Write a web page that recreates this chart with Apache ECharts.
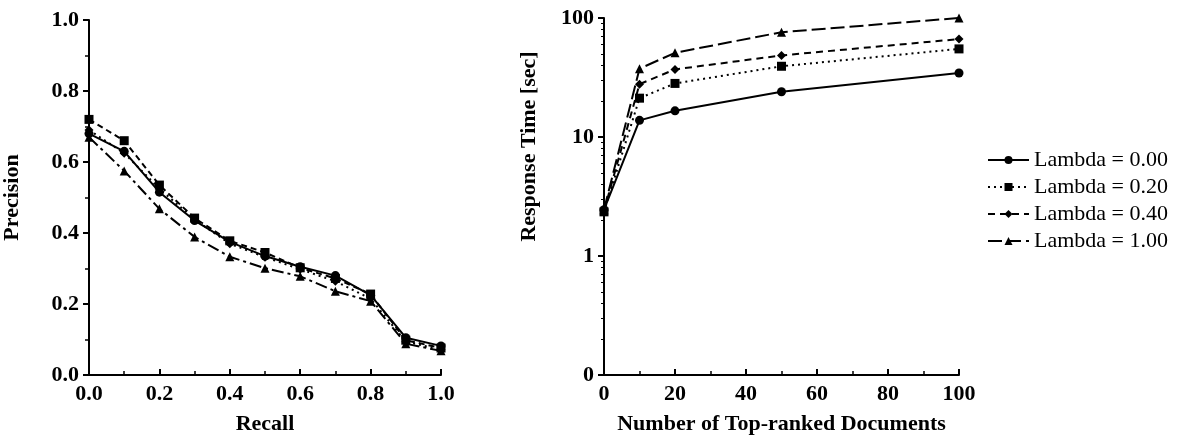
<!DOCTYPE html>
<html>
<head>
<meta charset="utf-8">
<script src="https://cdn.jsdelivr.net/npm/echarts@6/dist/echarts.min.js"></script>
<style>
  html, body { margin: 0; padding: 0; background: #fff; }
  #main { width: 1179px; height: 440px; }
</style>
</head>
<body>
<div id="main"></div>
<script>
// left chart: precision vs recall
let recallLevels = [0.0, 0.1, 0.2, 0.3, 0.4, 0.5, 0.6, 0.7, 0.8, 0.9, 1.0];
let precLambda000 = [0.68, 0.63, 0.515, 0.435, 0.375, 0.335, 0.305, 0.28, 0.225, 0.105, 0.082];
let precLambda020 = [0.72, 0.66, 0.535, 0.442, 0.378, 0.345, 0.302, 0.272, 0.228, 0.098, 0.076];
let precLambda040 = [0.69, 0.625, 0.525, 0.438, 0.37, 0.332, 0.298, 0.264, 0.215, 0.094, 0.071];
let precLambda100 = [0.67, 0.575, 0.468, 0.389, 0.333, 0.301, 0.278, 0.236, 0.208, 0.088, 0.068];

// right chart: response time vs number of documents
let topDocs = [0, 10, 20, 50, 100];
let timeLambda000 = [2.45, 13.8, 16.6, 24.0, 34.5];
let timeLambda020 = [2.35, 21.2, 28.2, 39.3, 55.0];
let timeLambda040 = [2.4, 27.8, 37.0, 48.5, 66.5];
let timeLambda100 = [2.45, 37.5, 51.0, 76.0, 100];

let lambdaNames = ["Lambda = 0.00", "Lambda = 0.20", "Lambda = 0.40", "Lambda = 1.00"];

let font = "Liberation Serif";

function pairs(xs, ys) {
    let res = [];
    for (let i = 0; i < xs.length; i++) {
        res.push([xs[i], ys[i]]);
    }
    return res;
}

// per series look: line dash + marker
let leftLooks = [
    {type: "solid", symbol: "circle", size: 9},
    {type: [6, 4], symbol: "rect", size: 9},
    {type: [2, 4], symbol: "diamond", size: 9},
    {type: [12, 4, 3, 4], symbol: "triangle", size: 9}
];
let rightLooks = [
    {type: "solid", symbol: "circle", size: 9},
    {type: [2, 4], symbol: "rect", size: 9},
    {type: [7, 5], symbol: "diamond", size: 9},
    {type: [14, 5], symbol: "triangle", size: 9}
];

function makeSeries(name, look, data, gridIdx) {
    return {
        name: name,
        type: "line",
        xAxisIndex: gridIdx,
        yAxisIndex: gridIdx,
        data: data,
        symbol: look.symbol,
        symbolSize: look.size,
        itemStyle: {color: "#000"},
        lineStyle: {color: "#000", width: 2, type: look.type},
        animation: false
    };
}

let axisLine = {lineStyle: {color: "#000", width: 2}};
let labelStyle = {color: "#000", fontFamily: font, fontSize: 22, fontWeight: "bold"};
let nameStyle = {color: "#000", fontFamily: font, fontSize: 22, fontWeight: "bold"};

let chart = echarts.init(document.getElementById("main"));

let leftSets = [precLambda000, precLambda020, precLambda040, precLambda100];
let rightSets = [timeLambda000, timeLambda020, timeLambda040, timeLambda100];

// right chart series first, so the legend takes its line styles from them
let series = [];
for (let i = 0; i < 4; i++) {
    series.push(makeSeries(lambdaNames[i], rightLooks[i], pairs(topDocs, rightSets[i]), 1));
}
for (let i = 0; i < 4; i++) {
    series.push(makeSeries(lambdaNames[i], leftLooks[i], pairs(recallLevels, leftSets[i]), 0));
}

let option = {
    backgroundColor: "#fff",
    grid: [
        {left: 86, right: 738, top: 20, bottom: 60},
        {left: 604, right: 220, top: 18, bottom: 62}
    ],
    legend: {
        orient: "vertical",
        left: 982,
        top: 144,
        itemWidth: 41,
        itemHeight: 10,
        itemGap: 5,
        data: lambdaNames,
        textStyle: {color: "#000", fontFamily: font, fontSize: 22},
        selectedMode: false
    },
    xAxis: [
        {
            type: "value", gridIndex: 0, min: 0, max: 1, interval: 0.2,
            name: "Recall", nameLocation: "middle", nameGap: 38, nameTextStyle: nameStyle,
            axisLine: axisLine,
            axisTick: {inside: true, length: 6, lineStyle: {color: "#000", width: 2}},
            minorTick: {show: true, splitNumber: 2, length: 4, lineStyle: {color: "#000", width: 1.5}},
            axisLabel: Object.assign({margin: 8, formatter: v => v.toFixed(1)}, labelStyle),
            splitLine: {show: false}
        },
        {
            type: "value", gridIndex: 1, min: 0, max: 100, interval: 20,
            name: "Number of Top-ranked Documents", nameLocation: "middle", nameGap: 38, nameTextStyle: nameStyle,
            axisLine: axisLine,
            axisTick: {inside: true, length: 6, lineStyle: {color: "#000", width: 2}},
            minorTick: {show: true, splitNumber: 2, length: 4, lineStyle: {color: "#000", width: 1.5}},
            axisLabel: Object.assign({margin: 8}, labelStyle),
            splitLine: {show: false}
        }
    ],
    yAxis: [
        {
            type: "value", gridIndex: 0, min: 0, max: 1, interval: 0.2,
            name: "Precision", nameLocation: "middle", nameGap: 66, nameTextStyle: nameStyle,
            axisLine: axisLine,
            axisTick: {length: 6, lineStyle: {color: "#000", width: 2}},
            minorTick: {show: true, splitNumber: 2, length: 4, lineStyle: {color: "#000", width: 1.5}},
            axisLabel: Object.assign({margin: 10, formatter: v => v.toFixed(1)}, labelStyle),
            splitLine: {show: false}
        },
        {
            type: "log", gridIndex: 1, min: 0.1, max: 100, logBase: 10,
            name: "Response Time [sec]", nameLocation: "middle", nameGap: 64,
            nameTextStyle: Object.assign({padding: [0, 0, 0, 100]}, nameStyle),
            axisLine: axisLine,
            axisTick: {length: 6, lineStyle: {color: "#000", width: 2}},
            minorTick: {show: true, splitNumber: 9, length: 3, lineStyle: {color: "#000", width: 1}},
            axisLabel: Object.assign({
                margin: 10,
                formatter: v => (v < 1 ? "0" : String(Math.round(v)))
            }, labelStyle),
            splitLine: {show: false}
        }
    ],
    series: series
};

chart.setOption(option);
</script>
</body>
</html>
